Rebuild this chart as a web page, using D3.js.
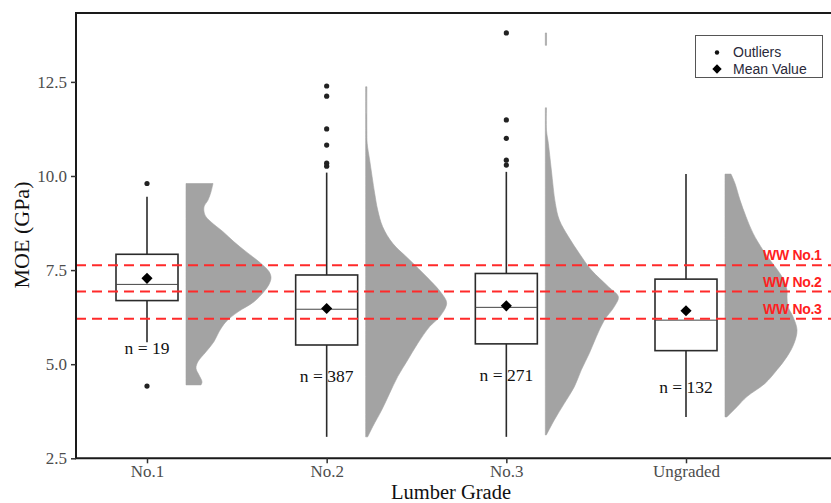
<!DOCTYPE html>
<html>
<head>
<meta charset="utf-8">
<script src="https://cdn.jsdelivr.net/npm/d3@7"></script>
<style>
  html, body { margin: 0; padding: 0; background: #fff; }
  svg { display: block; }
</style>
</head>
<body>
<svg id="chart" width="831" height="503"></svg>
<script>
// ---------------- data ----------------
const grades = ["No.1", "No.2", "No.3", "Ungraded"];
const q1 = [6.69, 5.51, 5.54, 5.36];
const medians = [7.12, 6.46, 6.51, 6.17];
const q3 = [7.92, 7.37, 7.41, 7.26];
const whiskerLow = [5.58, 3.07, 3.07, 3.60];
const whiskerHigh = [9.45, 10.09, 10.11, 10.05];
const means = [7.28, 6.48, 6.55, 6.42];
const counts = [19, 387, 271, 132];
const countLabelPos = [5.43, 4.69, 4.71, 4.39];
const outliers = [
  [9.80, 4.42],
  [12.39, 12.12, 11.25, 10.82, 10.34, 10.26],
  [13.80, 11.49, 11.00, 10.42, 10.29],
  []
];
// density profiles: [MOE value, relative density]
const densityNo1 = [
  [9.80, 0.27], [9.58, 0.25], [9.36, 0.22], [9.18, 0.18], [8.96, 0.19], [8.78, 0.25],
  [8.52, 0.37], [8.25, 0.48], [7.99, 0.60], [7.72, 0.73], [7.46, 0.83], [7.30, 0.85],
  [7.12, 0.83], [6.93, 0.78], [6.66, 0.68], [6.39, 0.52], [6.13, 0.40], [5.86, 0.33], [5.60, 0.28],
  [5.33, 0.20], [5.07, 0.12], [4.89, 0.10], [4.71, 0.13], [4.53, 0.16], [4.45, 0.15]
];
const densityNo2 = [
  [12.37, 0.012], [11.20, 0.012], [10.87, 0.015], [10.42, 0.04], [9.54, 0.09], [9.10, 0.12],
  [8.65, 0.17], [8.21, 0.27], [7.77, 0.44], [7.32, 0.61], [6.88, 0.76], [6.62, 0.81],
  [6.26, 0.74], [6.00, 0.64], [5.55, 0.52], [5.11, 0.42], [4.67, 0.32], [4.23, 0.24],
  [3.78, 0.16], [3.34, 0.07], [3.07, 0.02]
];
const densityNo3 = [
  [13.80, 0.012], [13.47, 0.012], [13.46, 0], [11.82, 0],
  [11.81, 0.012], [11.20, 0.012], [10.87, 0.03], [10.16, 0.06], [9.27, 0.10], [8.83, 0.14],
  [8.39, 0.23], [7.94, 0.34], [7.50, 0.46], [7.06, 0.63], [6.79, 0.73], [6.53, 0.69],
  [6.17, 0.59], [5.73, 0.51], [5.29, 0.44], [4.85, 0.36], [4.40, 0.29], [3.96, 0.19],
  [3.52, 0.09], [3.12, 0.01]
];
const densityUngraded = [
  [10.05, 0.06], [9.80, 0.10], [9.36, 0.15], [8.92, 0.21], [8.48, 0.28], [8.03, 0.38],
  [7.77, 0.45], [7.32, 0.57], [6.97, 0.62], [6.79, 0.62], [6.53, 0.63], [6.26, 0.68],
  [5.91, 0.72], [5.55, 0.69], [5.20, 0.62], [4.85, 0.52], [4.49, 0.40], [4.14, 0.22],
  [3.87, 0.12], [3.60, 0.02]
];
const densities = [densityNo1, densityNo2, densityNo3, densityUngraded];
const refLines = [7.63, 6.93, 6.21];
const refLabels = ["WW No.1", "WW No.2", "WW No.3"];
const yTicks = [2.5, 5.0, 7.5, 10.0, 12.5];
const legendLabels = ["Outliers", "Mean Value"];

// ---------------- layout ----------------
const W = 831, H = 503;
const pLeft = 76, pTop = 13, pBottom = 458.3, pRight = 845;
const svg = d3.select("#chart");

const y = d3.scaleLinear().domain([2.5, 14.33]).range([pBottom, pTop]);
const x = d3.scalePoint().domain(grades).range([147, 686]);
const dens = d3.scaleLinear().domain([0, 1]).range([0, 100]);
const boxHalf = 31;
const densOffset = 39;

const serif = "'Liberation Serif', 'Times New Roman', serif";
const sans = "'Liberation Sans', Arial, sans-serif";

// densities (half violins)
const areaGen = (cx) => d3.area()
  .defined(d => d[1] > 0)
  .y(d => y(d[0]))
  .x0(cx + densOffset)
  .x1(d => cx + densOffset + dens(d[1]))
  .curve(d3.curveCatmullRom);

grades.forEach((g, i) => {
  svg.append("path")
    .datum(densities[i])
    .attr("d", areaGen(x(g)))
    .attr("fill", "#a3a3a3")
    .attr("stroke", "#a3a3a3")
    .attr("stroke-width", 0.6);
});

// boxplots
const boxes = svg.append("g");
grades.forEach((g, i) => {
  const cx = x(g);
  boxes.append("line")
    .attr("x1", cx).attr("x2", cx)
    .attr("y1", y(q3[i])).attr("y2", y(whiskerHigh[i]))
    .attr("stroke", "#2b2b2b").attr("stroke-width", 1.6);
  boxes.append("line")
    .attr("x1", cx).attr("x2", cx)
    .attr("y1", y(q1[i])).attr("y2", y(whiskerLow[i]))
    .attr("stroke", "#2b2b2b").attr("stroke-width", 1.6);
  boxes.append("rect")
    .attr("x", cx - boxHalf).attr("width", boxHalf * 2)
    .attr("y", y(q3[i])).attr("height", y(q1[i]) - y(q3[i]))
    .attr("fill", "#fff").attr("stroke", "#2b2b2b").attr("stroke-width", 1.6);
  boxes.append("line")
    .attr("x1", cx - boxHalf).attr("x2", cx + boxHalf)
    .attr("y1", y(medians[i])).attr("y2", y(medians[i]))
    .attr("stroke", "#444").attr("stroke-width", 1);
  outliers[i].forEach(v => {
    boxes.append("circle")
      .attr("cx", cx).attr("cy", y(v)).attr("r", 2.6)
      .attr("fill", "#222");
  });
  boxes.append("path")
    .attr("d", d3.symbol(d3.symbolSquare, 62)())
    .attr("transform", `translate(${cx},${y(means[i])}) rotate(45)`)
    .attr("fill", "#000");
  boxes.append("text")
    .attr("x", cx).attr("y", y(countLabelPos[i]))
    .attr("dy", "0.35em")
    .attr("text-anchor", "middle")
    .attr("font-family", serif).attr("font-size", 17.5)
    .attr("fill", "#111")
    .text(`n = ${counts[i]}`);
});

// reference lines
refLines.forEach((v, i) => {
  svg.append("line")
    .attr("x1", pLeft).attr("x2", W)
    .attr("y1", y(v)).attr("y2", y(v))
    .attr("stroke", "#ff2a2a").attr("stroke-width", 2)
    .attr("stroke-dasharray", "10,6");
  svg.append("text")
    .attr("x", 763).attr("y", y(v) - 5)
    .attr("font-family", sans).attr("font-weight", "bold")
    .attr("font-size", 14).attr("fill", "#ff1f1f")
    .attr("letter-spacing", -0.3)
    .text(refLabels[i]);
});

// frame
svg.append("path")
  .attr("d", `M${pRight},${pTop} H${pLeft} V${pBottom} H${pRight}`)
  .attr("fill", "none").attr("stroke", "#1a1a1a").attr("stroke-width", 2);

// y axis
const yAxis = svg.append("g").attr("transform", `translate(${pLeft},0)`)
  .call(d3.axisLeft(y).tickValues(yTicks).tickFormat(d3.format(".1f")).tickSize(5).tickPadding(4));
yAxis.select(".domain").remove();
yAxis.selectAll(".tick line").attr("stroke", "#333").attr("stroke-width", 1.5);
yAxis.selectAll(".tick text").attr("font-family", serif).attr("font-size", 17).attr("fill", "#4d4d4d");

// x axis
const xAxis = svg.append("g").attr("transform", `translate(0,${pBottom})`)
  .call(d3.axisBottom(x).tickSize(5).tickPadding(2));
xAxis.select(".domain").remove();
xAxis.selectAll(".tick line").attr("stroke", "#333").attr("stroke-width", 1.5);
xAxis.selectAll(".tick text").attr("font-family", serif).attr("font-size", 17).attr("fill", "#4d4d4d");

// axis titles
svg.append("text")
  .attr("x", 451).attr("y", 498.6)
  .attr("text-anchor", "middle")
  .attr("font-family", serif).attr("font-size", 20.5).attr("fill", "#111")
  .text("Lumber Grade");
svg.append("text")
  .attr("transform", "translate(29,235) rotate(-90)")
  .attr("text-anchor", "middle")
  .attr("font-family", serif).attr("font-size", 22).attr("fill", "#111")
  .text("MOE (GPa)");

// legend
const lg = svg.append("g");
lg.append("rect")
  .attr("x", 695.5).attr("y", 35.5).attr("width", 127).attr("height", 42)
  .attr("fill", "#fff").attr("stroke", "#555").attr("stroke-width", 1);
lg.append("circle").attr("cx", 717).attr("cy", 52.5).attr("r", 2.2).attr("fill", "#111");
lg.append("path")
  .attr("d", d3.symbol(d3.symbolSquare, 44)())
  .attr("transform", "translate(717,69) rotate(45)")
  .attr("fill", "#000");
legendLabels.forEach((t, i) => {
  lg.append("text")
    .attr("x", 733).attr("y", 52.5 + i * 16.5)
    .attr("dy", "0.35em")
    .attr("font-family", sans).attr("font-size", 14).attr("fill", "#2a2a3a")
    .text(t);
});
</script>
</body>
</html>
